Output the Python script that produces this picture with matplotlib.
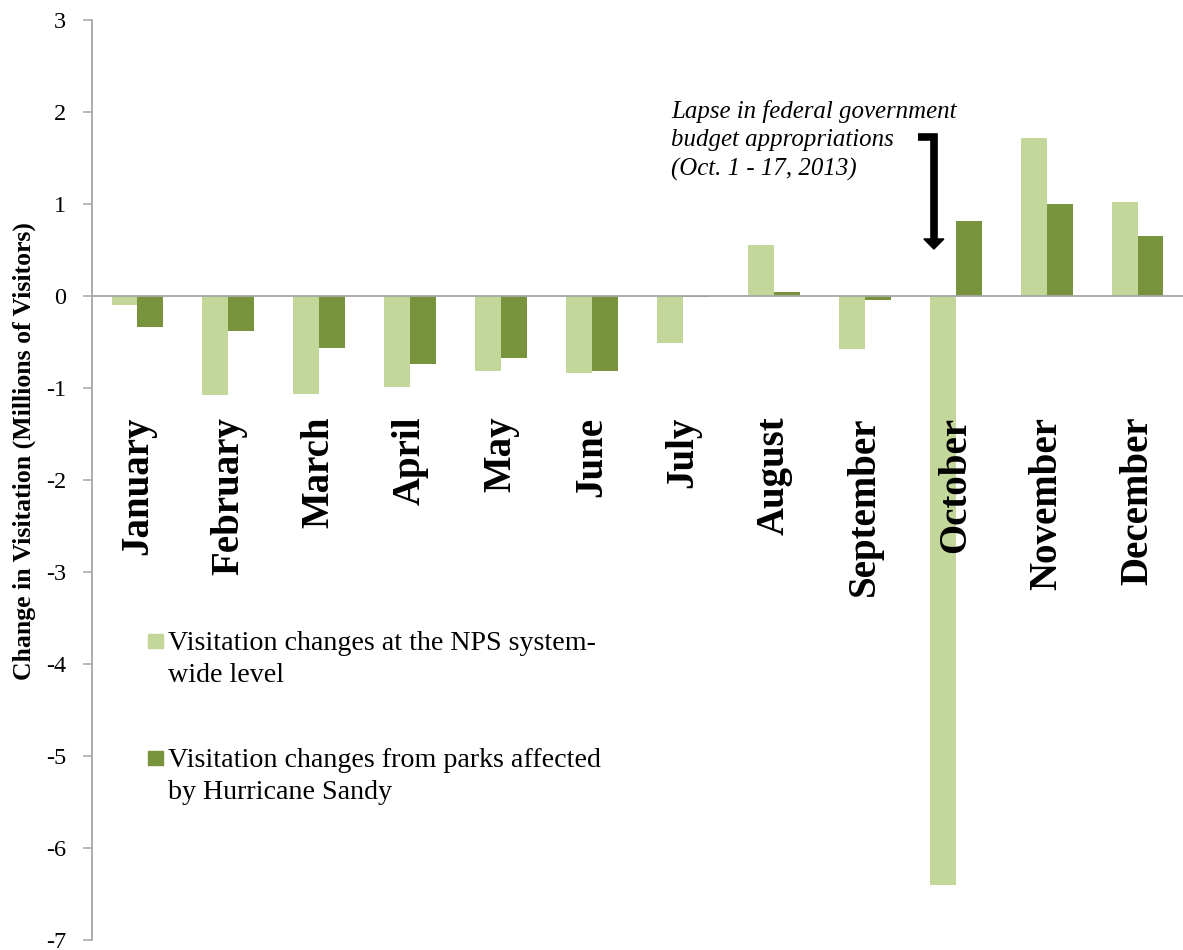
import numpy as np
import matplotlib.pyplot as plt
from matplotlib.patches import Rectangle, Polygon

plt.rcParams['font.family'] = ['Liberation Serif', 'DejaVu Serif']
plt.rcParams['axes.unicode_minus'] = False

months = ['January', 'February', 'March', 'April', 'May', 'June', 'July',
          'August', 'September', 'October', 'November', 'December']
nps_wide = [-0.10, -1.08, -1.07, -0.99, -0.81, -0.84, -0.51, 0.55, -0.58, -6.40, 1.72, 1.02]
sandy = [-0.34, -0.38, -0.57, -0.74, -0.67, -0.81, -0.01, 0.04, -0.04, 0.81, 1.00, 0.65]
series_labels = ['Visitation changes at the NPS system-\nwide level',
                 'Visitation changes from parks affected\nby Hurricane Sandy']
colors = ['#c4d79b', '#77933c']
yticks = list(range(-7, 4))
note = 'Lapse in federal government\nbudget appropriations\n(Oct. 1 - 17, 2013)'

W, H = 1183, 950
fig = plt.figure(figsize=(W / 100, H / 100), dpi=100)
ax = fig.add_axes([92 / W, 1 - 940 / H, 1 - 92 / W, 920 / H])

x = np.arange(len(months))
bw = 0.285
ax.bar(x - bw / 2, nps_wide, bw, color=colors[0], zorder=2)
ax.bar(x + bw / 2, sandy, bw, color=colors[1], zorder=2)

ax.set_xlim(-0.5, len(months) - 0.5)
ax.set_ylim(-7, 3)
ax.set_yticks(yticks)
ax.set_yticklabels([str(t) for t in yticks])
ax.set_xticks([])
ax.tick_params(axis='y', direction='out', length=6.5, width=1.1, color='#a6a6a6',
               pad=12, labelsize=17.5)
for s in ['top', 'right']:
    ax.spines[s].set_visible(False)
ax.spines['bottom'].set_position(('data', 0))
for s in ['left', 'bottom']:
    ax.spines[s].set_color('#a6a6a6')
    ax.spines[s].set_linewidth(1.3)
    ax.spines[s].set_zorder(3)

# month names, rotated, hanging below the zero line
for i, m in enumerate(months):
    ax.text(i, -1.31, m, rotation=90, ha='center', va='top', fontsize=28,
            fontweight='bold', zorder=4)

fig.text(24 / W, 1 - 451 / H, 'Change in Visitation (Millions of Visitors)',
         rotation=90, ha='center', va='center', fontsize=18.5, fontweight='bold')

# legend drawn by hand so the square sits on the first line
leg_tops = [631, 748]
for lab, col, top in zip(series_labels, colors, leg_tops):
    fig.patches.append(Rectangle((148 / W, 1 - (top + 17) / H), 15 / W, 14 / H,
                                 transform=fig.transFigure, color=col))
    fig.text(168 / W, 1 - top / H, lab, ha='left', va='top', fontsize=20.2,
             linespacing=1.38)

# shutdown note with bent arrow
ax.text(5.87, 2.135, note, ha='left', va='top', fontsize=17.9, style='italic',
        linespacing=1.38)
arr_x, arr_top, arr_base, arr_tip = 8.76, 1.73, 0.62, 0.51
ax.plot([8.58, arr_x, arr_x], [arr_top, arr_top, arr_base], color='black',
        lw=5.5, solid_joinstyle='miter', solid_capstyle='butt', zorder=5)
ax.add_patch(Polygon([[arr_x - 0.11, arr_base], [arr_x + 0.11, arr_base],
                      [arr_x, arr_tip]], closed=True, color='black', zorder=5))

fig.savefig('out.png', dpi=100)
